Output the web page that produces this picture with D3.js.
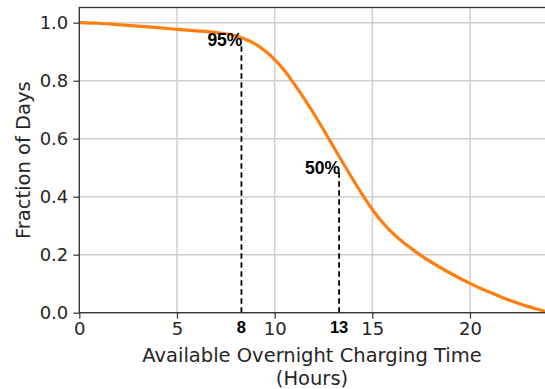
<!DOCTYPE html>
<html>
<head>
<meta charset="utf-8">
<script src="https://cdn.jsdelivr.net/npm/d3@7.9.0/dist/d3.min.js"></script>
<style>
  body { margin: 0; background: #fff; }
  svg { display: block; }
</style>
</head>
<body>
<svg id="chart" width="545" height="389"></svg>
<script>
// Values
const hours = [0, 1, 2, 3, 4, 5, 6, 7, 8, 8.5, 9, 9.5, 10, 10.5, 11, 11.5, 12, 12.5,
  13, 13.5, 14, 14.5, 15, 15.5, 16, 16.5, 17, 17.5, 18, 18.5, 19, 19.5, 20,
  20.5, 21, 21.5, 22, 22.5, 23, 23.5, 24];
const fraction = [1.0, 0.998, 0.993, 0.988, 0.983, 0.977, 0.972, 0.966, 0.955, 0.943,
  0.927, 0.903, 0.873, 0.835, 0.789, 0.740, 0.687, 0.631, 0.574, 0.516, 0.460, 0.406,
  0.356, 0.313, 0.277, 0.247, 0.221, 0.197, 0.175, 0.155, 0.136, 0.118, 0.101,
  0.085, 0.071, 0.057, 0.044, 0.032, 0.021, 0.011, 0.002];

const xTicks = [0, 5, 10, 15, 20];
const yTicks = [0, 0.2, 0.4, 0.6, 0.8, 1.0];

// dashed markers: where they stand, how high they go, and their texts
const markerX = [8.3, 13.3];
const markerTop = [0.925, 0.485];
const markerPct = ["95%", "50%"];
const markerHour = ["8", "13"];

const svg = d3.select('#chart');
const plotL = 79.3, plotR = 545, plotT = 7.5, plotB = 312.7;

const x = d3.scaleLinear().domain([0, 23.84]).range([plotL, plotR]);
const y = d3.scaleLinear().domain([0, 1.0524]).range([plotB, plotT]);

// grid
svg.append('g').selectAll('line').data(xTicks).join('line')
  .attr('x1', d => x(d)).attr('x2', d => x(d))
  .attr('y1', plotT).attr('y2', plotB)
  .attr('stroke', '#cfcfcf').attr('stroke-width', 1.5);
svg.append('g').selectAll('line').data(yTicks).join('line')
  .attr('x1', plotL).attr('x2', plotR)
  .attr('y1', d => y(d)).attr('y2', d => y(d))
  .attr('stroke', '#cfcfcf').attr('stroke-width', 1.5);

// curve
const data = hours.map((h, i) => ({ h, f: fraction[i] }));
svg.append('path')
  .datum(data)
  .attr('d', d3.line().x(d => x(d.h)).y(d => y(d.f)).curve(d3.curveMonotoneX))
  .attr('fill', 'none')
  .attr('stroke', '#ff7f0e')
  .attr('stroke-width', 3.2);

// dashed markers
markerX.forEach((mx, i) => {
  svg.append('line')
    .attr('x1', x(mx)).attr('x2', x(mx))
    .attr('y1', y(0)).attr('y2', y(markerTop[i]))
    .attr('stroke', '#000').attr('stroke-width', 1.8)
    .attr('stroke-dasharray', '5.5,3.5');
  svg.append('text')
    .attr('x', x(mx) + 1).attr('y', y(markerTop[i]) + 1.5)
    .attr('text-anchor', 'end')
    .attr('font-family', 'Liberation Sans, Arial, sans-serif')
    .attr('font-weight', 'bold').attr('font-size', 17.5)
    .text(markerPct[i]);
  svg.append('text')
    .attr('x', x(mx)).attr('y', 333.3)
    .attr('text-anchor', 'middle')
    .attr('font-family', 'Liberation Sans, Arial, sans-serif')
    .attr('font-weight', 'bold').attr('font-size', 16.5)
    .text(markerHour[i]);
});

// axes
const xAxis = svg.append('g')
  .attr('transform', `translate(0,${plotB})`)
  .call(d3.axisBottom(x).tickValues(xTicks).tickFormat(d3.format('d')).tickSizeInner(6).tickSizeOuter(0).tickPadding(4));
const yAxis = svg.append('g')
  .attr('transform', `translate(${plotL},0)`)
  .call(d3.axisLeft(y).tickValues(yTicks).tickFormat(d3.format('.1f')).tickSizeInner(6).tickSizeOuter(0).tickPadding(5));

[xAxis, yAxis].forEach(g => {
  g.select('.domain').remove();
  g.selectAll('.tick line').attr('stroke', '#333').attr('stroke-width', 1.2);
  g.selectAll('.tick text')
    .attr('font-family', 'DejaVu Sans, sans-serif')
    .attr('font-size', 18)
    .attr('fill', '#262626');
});

// spines
svg.append('rect')
  .attr('x', plotL).attr('y', plotT)
  .attr('width', plotR + 10 - plotL).attr('height', plotB - plotT)
  .attr('fill', 'none').attr('stroke', '#333').attr('stroke-width', 1.3);

// axis labels
svg.append('text')
  .attr('x', 312).attr('y', 361.7)
  .attr('text-anchor', 'middle')
  .attr('font-family', 'DejaVu Sans, sans-serif')
  .attr('font-size', 19.5).attr('fill', '#262626')
  .text('Available Overnight Charging Time');
svg.append('text')
  .attr('x', 312).attr('y', 385)
  .attr('text-anchor', 'middle')
  .attr('font-family', 'DejaVu Sans, sans-serif')
  .attr('font-size', 19.5).attr('fill', '#262626')
  .text('(Hours)');
svg.append('text')
  .attr('transform', `translate(30,${(plotT + plotB) / 2}) rotate(-90)`)
  .attr('text-anchor', 'middle')
  .attr('font-family', 'DejaVu Sans, sans-serif')
  .attr('font-size', 19.5).attr('fill', '#262626')
  .text('Fraction of Days');
</script>
</body>
</html>
